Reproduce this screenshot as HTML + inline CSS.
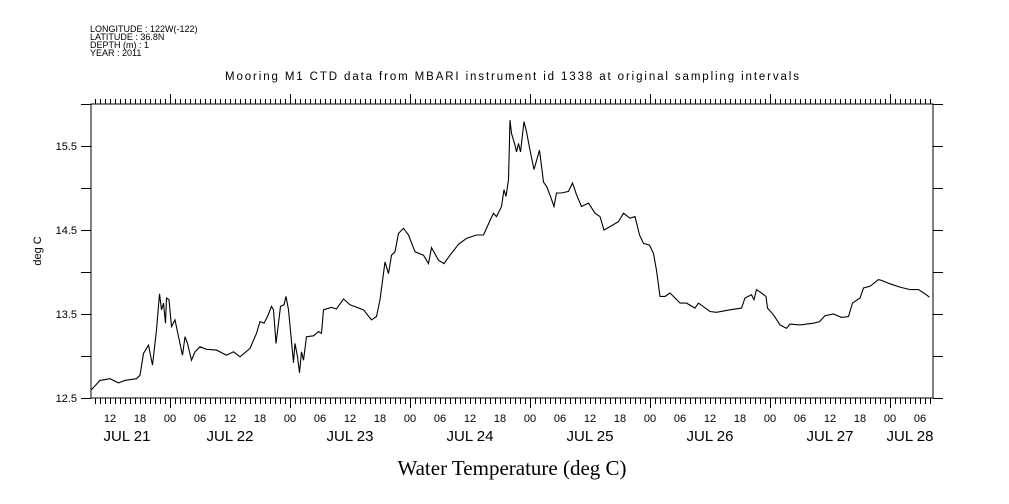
<!DOCTYPE html>
<html><head><meta charset="utf-8"><style>
html,body{margin:0;padding:0;background:#fff;}
svg{display:block;font-family:"Liberation Sans",sans-serif;}
</style></head><body>
<svg id="chart" width="1009" height="504" viewBox="0 0 1009 504" xmlns="http://www.w3.org/2000/svg">
<rect x="0" y="0" width="1009" height="504" fill="#fff"/>
<g font-size="9" fill="#000">
<text x="90" y="32">LONGITUDE : 122W(-122)</text>
<text x="90" y="40">LATITUDE : 36.8N</text>
<text x="90" y="48">DEPTH (m) : 1</text>
<text x="90" y="56">YEAR : 2011</text>
</g>
<text x="512" y="80" text-anchor="middle" font-size="11.5" textLength="574">Mooring M1 CTD data from MBARI instrument id 1338 at original sampling intervals</text>
<text transform="translate(41,251) rotate(-90)" text-anchor="middle" font-size="11">deg C</text>
<text x="512" y="475" text-anchor="middle" font-size="21" font-family="'Liberation Serif',serif">Water Temperature (deg C)</text>
<g id="axes"></g>
<g id="plot"></g>
</svg>
<script>
const hours = [8.3,10,12,13.7,15,17.3,18,18.7,19.7,20.5,21.3,21.9,22.3,22.7,23.1,23.3,23.8,24.3,25,25.7,26.5,27,27.5,28.3,29,30,31.3,33.3,35.3,36.7,38,40,41.3,42,42.8,43.5,44.3,44.7,45.2,45.7,46.1,46.8,47.2,47.7,48.7,49,49.5,49.9,50.3,50.7,51.3,52.7,53.7,54.3,54.7,56.3,57.3,58.7,60,62.7,64.3,65.3,66,67,67.7,68.3,69,69.7,70.7,71.7,73,74.7,75.7,76.3,77.7,78.8,80,81.7,83.3,85.3,86.7,87.9,88.7,89.3,90.3,90.8,91.2,91.7,92,92.3,93,93.3,93.7,94.1,94.8,95.3,96,96.8,97.9,98.7,99.3,100.1,100.8,101.3,102.3,103.7,104.5,105.3,106.3,107.7,109,110,110.8,112,113.7,114.7,116,117,117.9,118.7,119.9,120.7,121.3,122,123,124,125,126,127.3,129,129.7,132,133.3,136,138.3,139,140.3,140.8,141.3,142.3,143.2,143.5,144.7,146,147.3,148,150,152.7,153.9,155,156.7,158.3,159.7,160.5,162,162.7,164,165.7,166.3,168,170,172,173.7,175,175.9];
const temps = [12.6,12.71,12.73,12.68,12.71,12.73,12.77,13.03,13.13,12.89,13.31,13.74,13.55,13.63,13.39,13.69,13.67,13.35,13.43,13.23,13.01,13.23,13.15,12.95,13.05,13.11,13.08,13.07,13.01,13.05,12.99,13.09,13.27,13.41,13.39,13.47,13.59,13.55,13.15,13.39,13.59,13.61,13.71,13.55,12.92,13.15,12.99,12.8,13.05,12.95,13.23,13.24,13.29,13.27,13.55,13.58,13.56,13.68,13.61,13.55,13.43,13.47,13.67,14.12,13.98,14.2,14.24,14.46,14.52,14.44,14.24,14.2,14.1,14.29,14.14,14.1,14.2,14.33,14.4,14.44,14.44,14.6,14.7,14.66,14.78,14.98,14.9,15.1,15.81,15.65,15.51,15.43,15.53,15.43,15.79,15.67,15.45,15.22,15.45,15.07,15.02,14.9,14.78,14.94,14.94,14.96,15.06,14.92,14.78,14.82,14.7,14.66,14.5,14.54,14.6,14.7,14.64,14.66,14.44,14.34,14.32,14.22,14.02,13.71,13.71,13.75,13.69,13.63,13.63,13.57,13.63,13.53,13.52,13.55,13.57,13.69,13.73,13.67,13.79,13.75,13.71,13.57,13.49,13.37,13.33,13.38,13.37,13.39,13.41,13.48,13.5,13.46,13.47,13.63,13.69,13.81,13.83,13.91,13.9,13.86,13.82,13.79,13.79,13.74,13.7];
const yTicks = [12.5,13.5,14.5,15.5];
const yTickLabels = ["12.5","13.5","14.5","15.5"];
const hourLabels = ["00","06","12","18"];
const dayLabels = ["JUL 21","JUL 22","JUL 23","JUL 24","JUL 25","JUL 26","JUL 27","JUL 28"];

const X0=91, X1=933, Y0=398, Y1=104;
const H0=8.2, H1=176.6, V0=12.5, V1=16.0;
const xs = h => X0 + (h-H0)/(H1-H0)*(X1-X0);
const ys = v => Y0 - (v-V0)/(V1-V0)*(Y0-Y1);
const NS="http://www.w3.org/2000/svg";
const axes=document.getElementById('axes'), plot=document.getElementById('plot');
function mk(tag, attrs, parent){const e=document.createElementNS(NS,tag);for(const k in attrs)e.setAttribute(k,attrs[k]);parent.appendChild(e);return e;}

let frame=mk('rect',{x:X0,y:Y1,width:X1-X0,height:Y0-Y1,fill:'none',stroke:'#000','stroke-width':1,'shape-rendering':'crispEdges'},axes);



for(let v=V0; v<=V1+1e-6; v+=0.5){
  const y=Math.round(ys(v))+0.5;
  let t=mk('line',{x1:X0-10,x2:X0,y1:y,y2:y,stroke:'#000','shape-rendering':'crispEdges'},axes);
  
  
  let t2=mk('line',{x1:X1,x2:X1+10,y1:y,y2:y,stroke:'#000','shape-rendering':'crispEdges'},axes);
  
  
}
yTicks.forEach((v,i)=>{
  let t=mk('text',{x:X0-14,y:ys(v)+4,'text-anchor':'end','font-size':11},axes);
  t.textContent=yTickLabels[i];
  
  
});

for(let h=Math.ceil(H0); h<=H1; h++){
  const x=Math.round(xs(h))+0.5;
  const mid=h%24===0;
  let b=mk('line',{x1:x,x2:x,y1:Y0,y2:Y0+(mid?10:6),stroke:'#000','shape-rendering':'crispEdges'},axes);
  
  
  let t=mk('line',{x1:x,x2:x,y1:Y1,y2:Y1-(mid?10:5),stroke:'#000','shape-rendering':'crispEdges'},axes);
  
  
  if(h%6===0){
    let l=mk('text',{x:xs(h),y:Y0+24,'text-anchor':'middle','font-size':11},axes);
    l.textContent=hourLabels[(h%24)/6];
    
    
  }
}
dayLabels.forEach((d,i)=>{
  let cx=xs(i*24+12);
  cx=Math.max(127,Math.min(cx,910));
  let l=mk('text',{x:cx,y:Y0+43,'text-anchor':'middle','font-size':15},axes);
  l.textContent=d;
  
  
});

let dpath=hours.map((h,i)=>(i?'L':'M')+xs(h).toFixed(1)+' '+ys(temps[i]).toFixed(1)).join(' ');
let line=mk('path',{d:dpath,fill:'none',stroke:'#000','stroke-width':1.1},plot);


</script>
</body></html>
